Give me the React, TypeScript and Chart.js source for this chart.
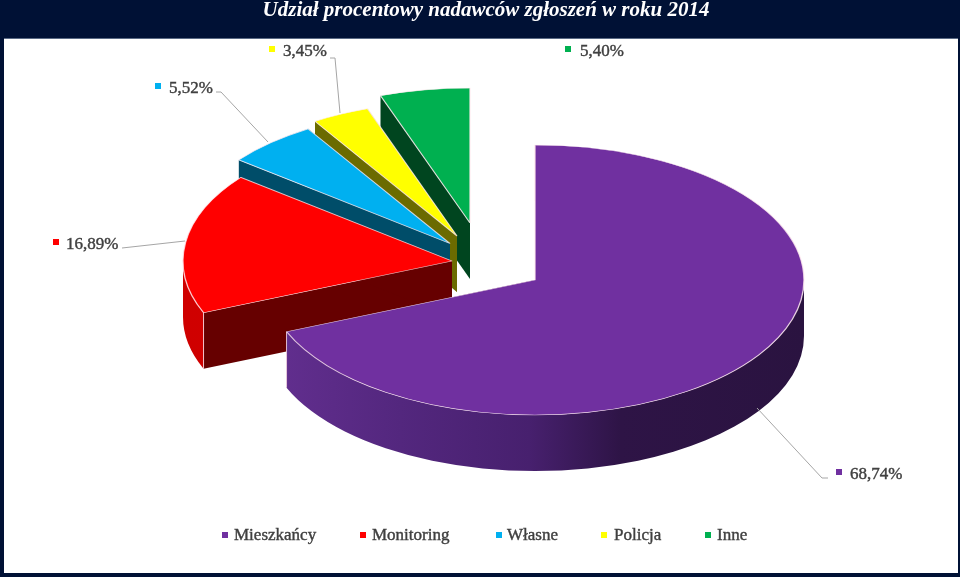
import React, { useEffect, useRef } from 'react'
import Chart from 'chart.js/auto'

const categories = ['Mieszkańcy', 'Monitoring', 'Własne', 'Policja', 'Inne']
const shares = [68.74, 16.89, 5.52, 3.45, 5.4]

const titleText = 'Udział procentowy nadawców zgłoszeń w roku 2014'

const faceColors = ['#7030A0', '#FF0000', '#00B0F0', '#FFFF00', '#00B050']
const wallColors = ['#4a2070', '#660000', '#004d69', '#6b6b00', '#00451f']

// where each exploded slice has its tip on the page
const sliceTips = [
  [535, 280],
  [452, 261],
  [450, 243.5],
  [457, 236],
  [470, 223],
]
const RX = 269
const RY = 135
const DEPTH = 56

// label anchors: square x, text x, text y, leader line points
const labelSpots = [
  { sq: 836, tx: 850, y: 473, line: [[757, 408], [822, 478], [828, 478]] },
  { sq: 53, tx: 66, y: 243, line: [[185, 241], [122, 248]] },
  { sq: 155, tx: 169, y: 87, line: [[268, 142], [221, 92], [216, 92]] },
  { sq: 269, tx: 283, y: 50, line: [[340, 113], [335, 58], [330, 58]] },
  { sq: 565, tx: 580, y: 50, line: [] as number[][] },
]

// legend row: square x and text x for each category
const legendSquares = [222, 360, 496, 601, 705]
const legendTexts = [234, 372, 507, 614, 717]
const LEGEND_Y = 535

const drawText = (ctx: CanvasRenderingContext2D, text: string, x: number, y: number) => {
  ctx.fillStyle = '#404040'
  ctx.strokeStyle = '#404040'
  ctx.lineWidth = 0.4
  ctx.fillText(text, x, y)
  ctx.strokeText(text, x, y)
}

const pseudo3d = {
  id: 'pseudo3d',
  beforeDraw(chart: Chart) {
    const { ctx, width, height } = chart
    ctx.save()
    ctx.fillStyle = '#001135'
    ctx.fillRect(0, 0, width, height)
    ctx.fillStyle = '#ffffff'
    ctx.fillRect(4, 39, width - 6, height - 43)
    ctx.strokeStyle = '#5a6a85'
    ctx.lineWidth = 1
    ctx.beginPath()
    ctx.moveTo(4, 38.5)
    ctx.lineTo(width - 2, 38.5)
    ctx.stroke()
    ctx.restore()
  },
  beforeDatasetDraw(chart: Chart) {
    const { ctx } = chart
    const arcs = chart.getDatasetMeta(0).data as any[]

    // back to front, purple goes last
    for (let i = arcs.length - 1; i >= 0; i--) {
      const arc = arcs[i]
      const [tx, ty] = sliceTips[i]
      const a0 = arc.startAngle
      const a1 = arc.endAngle
      const sx = tx + Math.cos(a0) * RX
      const sy = ty + Math.sin(a0) * RY
      const ex = tx + Math.cos(a1) * RX
      const ey = ty + Math.sin(a1) * RY

      ctx.save()
      ctx.fillStyle = wallColors[i]
      for (const [px, py] of [[sx, sy], [ex, ey]]) {
        ctx.beginPath()
        ctx.moveTo(tx, ty)
        ctx.lineTo(px, py)
        ctx.lineTo(px, py + DEPTH)
        ctx.lineTo(tx, ty + DEPTH)
        ctx.closePath()
        ctx.fill()
      }

      // outer rim, only the part facing the viewer
      const r0 = Math.max(a0, 0)
      const r1 = Math.min(a1, Math.PI)
      if (r1 > r0) {
        const grad = ctx.createLinearGradient(tx - RX, 0, tx + RX, 0)
        if (i === 0) {
          grad.addColorStop(0, '#632f90')
          grad.addColorStop(0.25, '#53277e')
          grad.addColorStop(0.49, '#47206e')
          grad.addColorStop(0.66, '#2e1446')
          grad.addColorStop(1, '#2a1340')
        } else {
          grad.addColorStop(0, '#cf0000')
          grad.addColorStop(1, '#e00000')
        }
        ctx.fillStyle = grad
        ctx.beginPath()
        ctx.ellipse(tx, ty, RX, RY, 0, r0, r1)
        ctx.ellipse(tx, ty + DEPTH, RX, RY, 0, r1, r0, true)
        ctx.closePath()
        ctx.fill()

        // light edge down the corner
        ctx.strokeStyle = 'rgba(255,225,235,0.8)'
        ctx.lineWidth = 1
        ctx.beginPath()
        ctx.moveTo(sx, sy)
        ctx.lineTo(sx, sy + DEPTH)
        ctx.moveTo(ex, ey)
        ctx.lineTo(ex, ey + DEPTH)
        ctx.stroke()
      }
      ctx.restore()

      // top face is the library's own arc, squashed onto the ellipse
      ctx.save()
      ctx.translate(tx, ty)
      ctx.scale(RX / arc.outerRadius, RY / arc.outerRadius)
      ctx.translate(-arc.x, -arc.y)
      arc.draw(ctx)
      ctx.restore()
    }
    return false
  },
  afterDraw(chart: Chart) {
    const { ctx } = chart
    ctx.save()
    ctx.font = '17px "Liberation Serif"'
    ctx.textBaseline = 'middle'
    labelSpots.forEach((spot, i) => {
      ctx.fillStyle = faceColors[i]
      ctx.fillRect(spot.sq, spot.y - 4, 6, 6)
      drawText(ctx, shares[i].toFixed(2).replace('.', ',') + '%', spot.tx, spot.y + 1.5)
      if (spot.line.length) {
        ctx.strokeStyle = '#a6a6a6'
        ctx.lineWidth = 1
        ctx.beginPath()
        spot.line.forEach(([x, y], k) => (k ? ctx.lineTo(x, y) : ctx.moveTo(x, y)))
        ctx.stroke()
      }
    })
    categories.forEach((name, i) => {
      ctx.fillStyle = faceColors[i]
      ctx.fillRect(legendSquares[i], LEGEND_Y - 3, 6, 6)
      drawText(ctx, name, legendTexts[i], LEGEND_Y + 1)
    })
    ctx.restore()
  },
}

const App = () => {
  const chartRef = useRef<HTMLCanvasElement>(null)

  useEffect(() => {
    if (!chartRef.current) return
    const chart = new Chart(chartRef.current, {
      type: 'pie',
      data: {
        labels: categories,
        datasets: [
          {
            data: shares,
            backgroundColor: faceColors,
            borderColor: 'rgba(255,235,240,0.8)',
            borderWidth: 1.3,
          },
        ],
      },
      options: {
        responsive: false,
        animation: false,
        layout: { padding: { left: 12, bottom: 24 } },
        plugins: {
          title: {
            display: true,
            text: titleText,
            color: '#ffffff',
            padding: { top: -2, bottom: 20 },
            font: { family: '"Liberation Serif"', size: 21, style: 'italic', weight: 'bold' },
          },
          legend: { display: false },
          tooltip: { enabled: false },
        },
      },
      plugins: [pseudo3d],
    })
    return () => chart.destroy()
  }, [])

  return (
    <div style={{ position: 'fixed', left: 0, top: 0, width: 960, height: 577 }}>
      <canvas ref={chartRef} width={960} height={577} style={{ display: 'block' }} />
    </div>
  )
}

export default App
